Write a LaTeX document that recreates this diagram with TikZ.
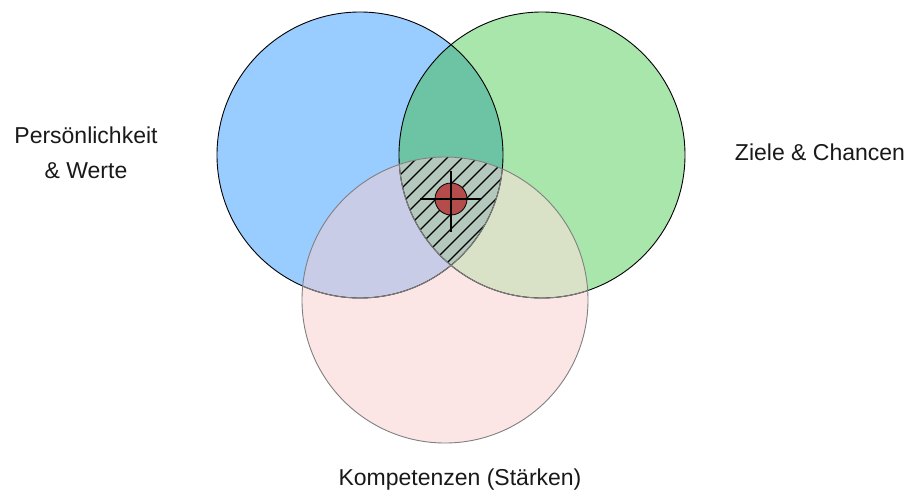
\documentclass[tikz,border=0pt]{standalone}
\usepackage{fontspec}
\setmainfont{Liberation Sans}
\usetikzlibrary{calc}
\begin{document}
\begin{tikzpicture}[x=1pt,y=-1pt,
  lbl/.style={font=\fontsize{23}{35}\selectfont, align=center, inner sep=0pt, text=black!90},
  rim/.style={line width=0.9pt, draw=black},
  softrim/.style={line width=0.9pt, draw=black!50},
  hatchline/.style={line width=1.1pt, draw=black},
  crossline/.style={line width=1.3pt, draw=black}]
\definecolor{persblue}{HTML}{99CCFF}
\definecolor{zielgreen}{HTML}{A9E6AC}
\definecolor{bluegreen}{HTML}{6CC4A4}
\definecolor{kompink}{HTML}{FBE5E5}
\definecolor{bluepink}{HTML}{C8CCE6}
\definecolor{greenpink}{HTML}{D9E2C6}
\definecolor{core}{HTML}{B4C8BE}
\definecolor{dotred}{HTML}{B44C4C}
\def\R{143pt}
\useasboundingbox[fill=white] (0,0) rectangle (916,493);

% circle centres
\coordinate (cb) at (360,155);
\coordinate (cg) at (542,155);
\coordinate (cp) at (445,300);
\coordinate (mid) at (451,199);

% single circles
\fill[persblue] (cb) circle[radius=\R];
\fill[zielgreen] (cg) circle[radius=\R];
\fill[kompink] (cp) circle[radius=\R];

% pairwise overlaps
\begin{scope}
  \clip (cb) circle[radius=\R];
  \fill[bluegreen] (cg) circle[radius=\R];
\end{scope}
\begin{scope}
  \clip (cp) circle[radius=\R];
  \fill[bluepink] (cb) circle[radius=\R];
  \fill[greenpink] (cg) circle[radius=\R];
\end{scope}

% common core with hatching
\begin{scope}
  \clip (cb) circle[radius=\R];
  \clip (cg) circle[radius=\R];
  \clip (cp) circle[radius=\R];
  \fill[core] (cp) circle[radius=\R];
  \foreach \k in {-10,...,10}
    \draw[hatchline] ($(mid)+(\k*15-120,120)$) -- ++(240,-240);
\end{scope}

% outlines
\draw[rim] (cb) circle[radius=\R];
\draw[rim] (cg) circle[radius=\R];
\begin{scope}
  \clip (cp) circle[radius=\R];
  \draw[softrim] (cb) circle[radius=\R];
  \draw[softrim] (cg) circle[radius=\R];
\end{scope}
\draw[softrim] (cp) circle[radius=\R];

% centre mark
\node[circle, fill=dotred, draw=black, line width=0.8pt, minimum size=32pt, inner sep=0pt] (dot) at (mid) {};
\coordinate (xl) at ($(mid)+(-31,0)$);
\coordinate (xr) at ($(mid)+(30,0)$);
\coordinate (yt) at ($(mid)+(0,-28)$);
\coordinate (yb) at ($(mid)+(0,33)$);
\draw[crossline] (xl) -- (xr);
\draw[crossline] (yt) -- (yb);

% labels
\node[lbl] (lp) at (86,153) {Persönlichkeit\\\& Werte};
\node[lbl] (lz) at (820,152) {Ziele \& Chancen};
\node[lbl] (lk) at (460,480) {Kompetenzen (Stärken)};
\end{tikzpicture}
\end{document}
